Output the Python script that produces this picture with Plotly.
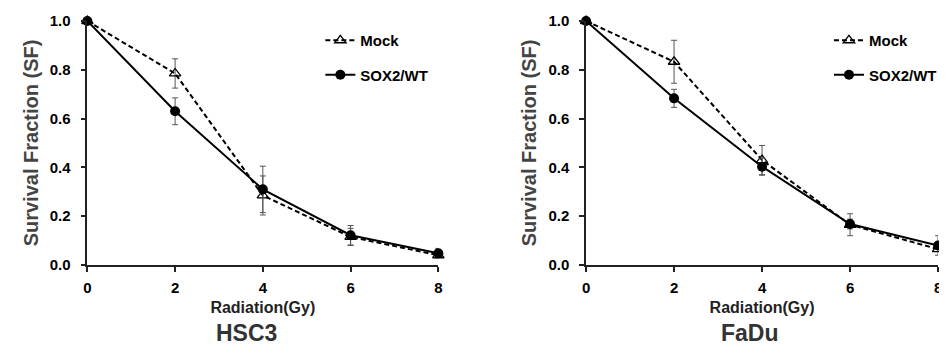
import plotly.graph_objects as go

doses = [0, 2, 4, 6, 8]
tick_vals_y = [0.0, 0.2, 0.4, 0.6, 0.8, 1.0]
tick_text_y = ["0.0", "0.2", "0.4", "0.6", "0.8", "1.0"]

hsc3_mock = [1.0, 0.785, 0.285, 0.115, 0.04]
hsc3_mock_err = [0.0, 0.06, 0.08, 0.035, 0.01]
hsc3_sox2 = [1.0, 0.63, 0.31, 0.122, 0.048]
hsc3_sox2_err = [0.0, 0.055, 0.095, 0.04, 0.02]

fadu_mock = [1.0, 0.833, 0.43, 0.165, 0.065]
fadu_mock_err = [0.0, 0.088, 0.06, 0.045, 0.01]
fadu_sox2 = [1.0, 0.683, 0.403, 0.168, 0.08]
fadu_sox2_err = [0.0, 0.037, 0.035, 0.02, 0.04]

panels = ["HSC3", "FaDu"]
FONT = "Liberation Sans, Arial, sans-serif"

# the page body adds an 8px offset; lay the figure out in window pixels minus that offset
OFF = 8
W, H = 947 - OFF, 347 - OFF
MT = 21 - OFF
MB = H - (265 - OFF)
PH = H - MT - MB


def px(x_ref):
    return (x_ref - OFF) / W


def py(y_ref):
    return (H - MB - (y_ref - OFF)) / PH


fig = go.Figure()


def add_panel(idx, mock, mock_err, sox, sox_err):
    xa = "x" if idx == 0 else "x2"
    ya = "y" if idx == 0 else "y2"
    lg = "legend" if idx == 0 else "legend2"
    fig.add_trace(go.Scatter(
        x=doses, y=mock, name="<b>Mock</b>", xaxis=xa, yaxis=ya, legend=lg,
        legendgroup="m%d" % idx,
        mode="lines+markers", cliponaxis=False,
        line=dict(color="black", width=2, dash="5px,3px"),
        marker=dict(symbol="triangle-up-open", size=10, color="black", line=dict(width=1.3)),
        error_y=dict(type="data", array=mock_err, color="#555555", thickness=1, width=3),
    ))
    fig.add_trace(go.Scatter(
        x=doses, y=sox, name="<b>SOX2/WT</b>", xaxis=xa, yaxis=ya, legend=lg,
        legendgroup="s%d" % idx,
        mode="lines+markers", cliponaxis=False,
        line=dict(color="black", width=2),
        marker=dict(symbol="circle", size=10, color="black"),
        error_y=dict(type="data", array=sox_err, color="#555555", thickness=1, width=3),
    ))


add_panel(0, hsc3_mock, hsc3_mock_err, hsc3_sox2, hsc3_sox2_err)
add_panel(1, fadu_mock, fadu_mock_err, fadu_sox2, fadu_sox2_err)

axis_common = dict(
    showgrid=False, zeroline=False, showline=True, linecolor="#222222", linewidth=1.5,
    ticks="outside", ticklen=5, tickcolor="#222222", tickwidth=1.5,
    tickfont=dict(family=FONT, size=15, color="black", weight="bold"),
)
xt = dict(text="<b>Radiation(Gy)</b>", font=dict(family=FONT, size=16, color="#222222"), standoff=7)
yt = dict(text="<b>Survival Fraction (SF)</b>", font=dict(family=FONT, size=20, color="#444444"), standoff=6)

d1 = [px(84), px(438)]
d2 = [px(587), px(942)]
fig.update_layout(
    width=W, height=H, paper_bgcolor="white", plot_bgcolor="white",
    margin=dict(l=0, r=0, t=MT, b=MB),
    font=dict(family=FONT, color="black"),
    xaxis=dict(domain=d1, range=[0, 8], tickvals=doses, anchor="y", title=xt,
               ticklabelstandoff=3, **axis_common),
    yaxis=dict(domain=[0, 1], range=[0, 1], tickvals=tick_vals_y, ticktext=tick_text_y, anchor="x",
               title=yt, ticklabelstandoff=7, **axis_common),
    xaxis2=dict(domain=d2, range=[0, 8], tickvals=doses, anchor="y2", title=xt,
                ticklabelstandoff=3, **axis_common),
    yaxis2=dict(domain=[0, 1], range=[0, 1], tickvals=tick_vals_y, ticktext=tick_text_y, anchor="x2",
                title=yt, ticklabelstandoff=7, **axis_common),
    legend=dict(x=px(319), y=py(24), xanchor="left", yanchor="top",
                bgcolor="rgba(0,0,0,0)", font=dict(family=FONT, size=15, color="black"),
                tracegroupgap=12, itemwidth=30),
    legend2=dict(x=px(832), y=py(24), xanchor="left", yanchor="top",
                 bgcolor="rgba(0,0,0,0)", font=dict(family=FONT, size=15, color="black"),
                 tracegroupgap=12, itemwidth=30),
)

title_pos = [245, 752]
for name, cx in zip(panels, title_pos):
    fig.add_annotation(text="<b>" + name + "</b>", x=px(cx), y=py(333), xref="paper", yref="paper",
                       showarrow=False, font=dict(family=FONT, size=23, color="#333333"),
                       xanchor="center", yanchor="middle")

fig.write_html("out.html")
